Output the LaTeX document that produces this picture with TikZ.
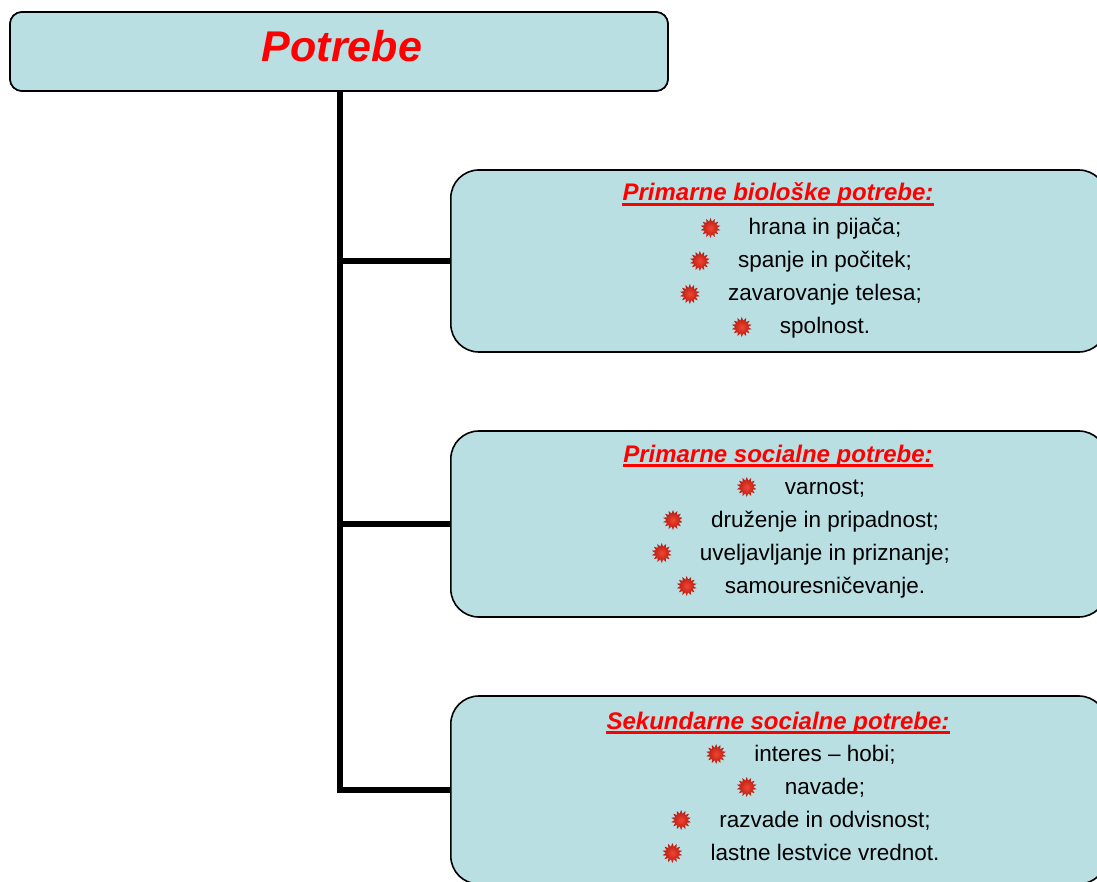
\documentclass[tikz,border=0pt]{standalone}
\usepackage{fontspec}
\setmainfont{Liberation Sans}
\usetikzlibrary{shapes.geometric}
\definecolor{boxfill}{HTML}{B9DFE3}
\definecolor{bulin}{HTML}{F04632}
\definecolor{bulout}{HTML}{B4180F}
\begin{document}
\begin{tikzpicture}[x=1pt,y=-1pt,
  box/.style={draw=black, line width=1.6pt, fill=boxfill, inner sep=0pt},
  conn/.style={line width=6pt, line join=miter},
  hdr/.style={anchor=base, inner sep=0pt, text=red, font=\fontsize{24}{28}\selectfont\bfseries\itshape},
  uline/.style={draw=red, line width=2.4pt},
  item/.style={anchor=base, inner sep=0pt, font=\fontsize{22.5}{27}\selectfont},
  bul/.style={star, star points=14, star point ratio=1.55, minimum size=20pt, inner sep=0pt, shading=radial, inner color=bulin, outer color=bulout, draw=none}
]
\useasboundingbox (0,0) rectangle (1097,882);
\begin{scope}
\clip (0,0) rectangle (1097,882);
\path (339,51.5) node[box, rounded corners=12pt, minimum width=658pt, minimum height=79pt] (top) {};
\coordinate (b1w) at (450,261);
\coordinate (b2w) at (450,524);
\coordinate (b3w) at (450,790);
\coordinate (trunk) at (340,91);
% connectors
\draw[conn] (top.south -| trunk) -- (b3w -| trunk) -- (b3w);
\draw[conn] (b1w -| trunk) -- (b1w);
\draw[conn] (b2w -| trunk) -- (b2w);
% top box redrawn over connector
\node[box, rounded corners=12pt, minimum width=658pt, minimum height=79pt] (topbox) at (339,51.5) {};
\node[anchor=base, inner sep=0pt, text=red, font=\fontsize{43}{50}\selectfont\bfseries\itshape] (title) at (342,62) {Potrebe};
% branch boxes
\node[box, rounded corners=28pt, minimum width=656pt, minimum height=182pt, anchor=west] (b1) at (b1w) {};
\node[box, rounded corners=28pt, minimum width=656pt, minimum height=186pt, anchor=west] (b2) at (b2w) {};
\node[box, rounded corners=28pt, minimum width=656pt, minimum height=188pt, anchor=west] (b3) at (b3w) {};
% box 1
\node[hdr] (h1) at (778,201) {Primarne biološke potrebe:};
\draw[uline] ([yshift=-3.5pt]h1.base west) -- ([yshift=-3.5pt]h1.base east);
\foreach \t [count=\i] in {hrana in pijača;,spanje in počitek;,zavarovanje telesa;,spolnost.}{
  \node[item] (a\i) at (825,{235+33*(\i-1)}) {\t};
  \node[bul] (ab\i) at ([xshift=-38pt,yshift=7pt]a\i.base west) {};
}
% box 2
\node[hdr] (h2) at (778,462) {Primarne socialne potrebe:};
\draw[uline] ([yshift=-3.5pt]h2.base west) -- ([yshift=-3.5pt]h2.base east);
\foreach \t [count=\i] in {varnost;,druženje in pripadnost;,uveljavljanje in priznanje;,samouresničevanje.}{
  \node[item] (c\i) at (825,{494+33*(\i-1)}) {\t};
  \node[bul] (cb\i) at ([xshift=-38pt,yshift=7pt]c\i.base west) {};
}
% box 3
\node[hdr] (h3) at (778,729) {Sekundarne socialne potrebe:};
\draw[uline] ([yshift=-3.5pt]h3.base west) -- ([yshift=-3.5pt]h3.base east);
\foreach \t [count=\i] in {interes – hobi;,navade;,razvade in odvisnost;,lastne lestvice vrednot.}{
  \node[item] (e\i) at (825,{761+33*(\i-1)}) {\t};
  \node[bul] (eb\i) at ([xshift=-38pt,yshift=7pt]e\i.base west) {};
}
\end{scope}
\end{tikzpicture}
\end{document}
